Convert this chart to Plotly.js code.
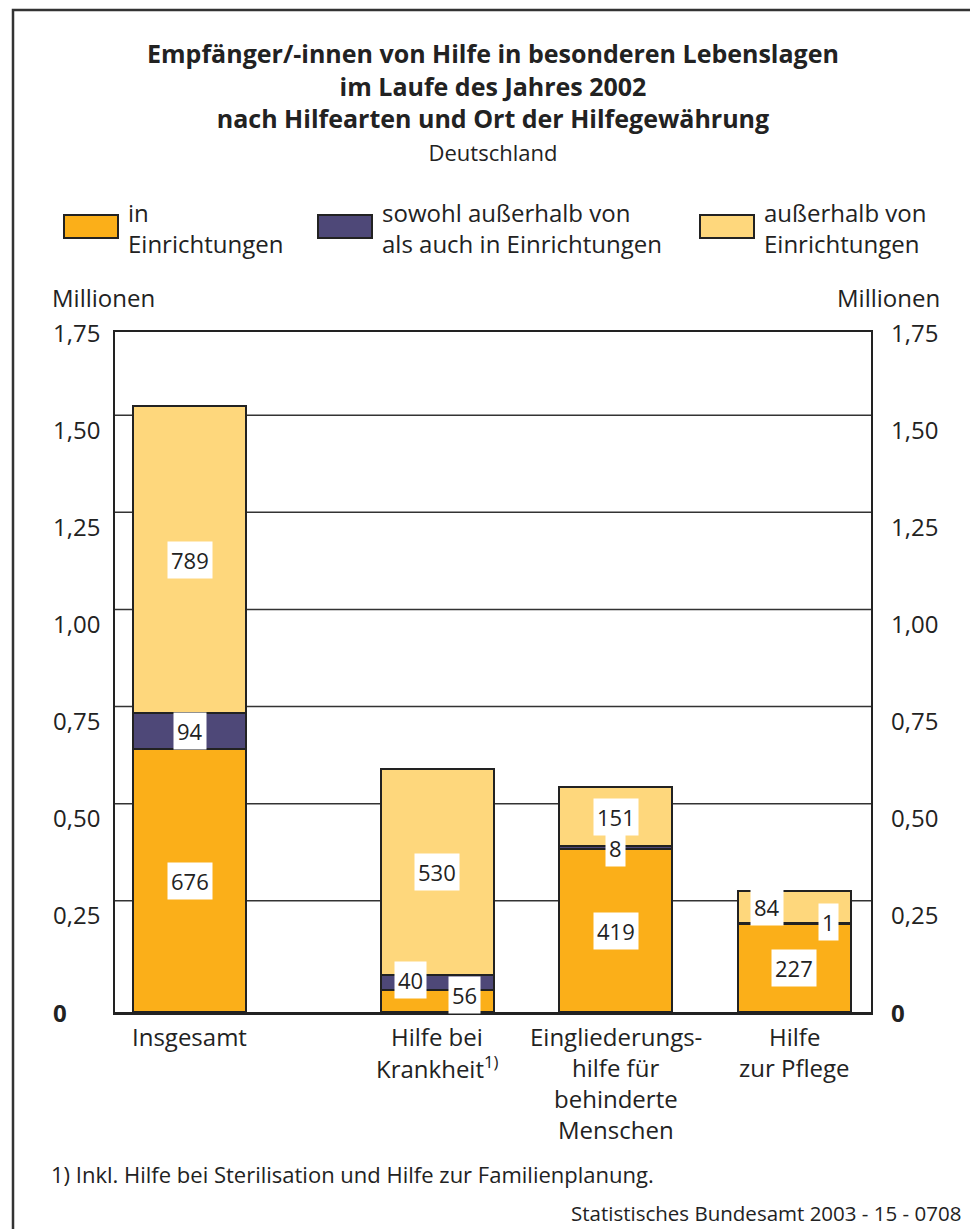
<!DOCTYPE html>
<html><head><meta charset="utf-8">
<script src="https://cdn.plot.ly/plotly-3.0.1.min.js"></script>
<style>html,body{margin:0;padding:0;background:#fff}</style>
</head><body><div id="chart" style="width:970px;height:1229px"></div>
<script>
// ---- data (thousands of recipients) ----
const categories = ["Insgesamt", "Hilfe bei<br>Krankheit<sup>1)</sup>", "Eingliederungs-<br>hilfe für<br>behinderte<br>Menschen", "Hilfe<br>zur Pflege"];
const inEinrichtungen = [676, 56, 419, 227];
const sowohlAlsAuch = [94, 40, 8, 1];
const ausserhalb = [789, 530, 151, 84];
const seriesNames = ["in<br>Einrichtungen", "sowohl außerhalb von<br>als auch in Einrichtungen", "außerhalb von<br>Einrichtungen"];
const tickValues = [0, 0.25, 0.5, 0.75, 1.0, 1.25, 1.5, 1.75];
const tickLabels = ["0", "0,25", "0,50", "0,75", "1,00", "1,25", "1,50", "1,75"];
const gridValues = [0.25, 0.5, 0.75, 1.0, 1.25, 1.5];

// ---- layout constants ----
const W = 970, H = 1229, ML = 115, MR = 99, MT = 332, MB = 217;
const PW = W - ML - MR, PH = H - MT - MB;
const px = x => (x - ML) / PW;
const py = y => (H - MB - y) / PH;
const slotPos = [0, 1.385, 2.385, 3.385];
const gridShift = 0.036;   // the printed grid sits slightly above the tick positions
const colors = ["#FBAF19", "#4E4878", "#FED77C"];
const FONT = "Open Sans";
const TXT = "#222";
const BODY = 24;
const series = [inEinrichtungen, sowohlAlsAuch, ausserhalb];

const traces = series.map((vals, s) => ({
  type: "bar",
  x: slotPos,
  y: vals.map(v => v / 1000),
  width: 0.633,
  name: seriesNames[s].replace("<br>", " "),
  marker: {color: colors[s], line: {color: "#222", width: 2}},
  hoverinfo: "skip",
  showlegend: false
}));

const annotations = [];
const shapes = [];

// grid lines (drawn below the bars)
gridValues.forEach(v => shapes.push({
  type: "line", xref: "paper", yref: "y", x0: 0, x1: 1, y0: v + gridShift, y1: v + gridShift,
  line: {color: "#333", width: 1.5}, layer: "below"
}));

// value labels
const shifts = {"1,1": [-27, 2], "0,1": [27, 6], "2,3": [-27, 0], "1,3": [34, 2]};
for (let i = 0; i < categories.length; i++) {
  let base = 0;
  series.forEach((vals, s) => {
    const v = vals[i];
    const sh = shifts[s + "," + i] || [0, 0];
    annotations.push({
      x: slotPos[i], y: (base + v / 2) / 1000, xref: "x", yref: "y",
      text: String(v), showarrow: false, bgcolor: "#fff", borderpad: 3,
      xshift: sh[0], yshift: sh[1],
      font: {family: FONT, size: 22, color: TXT}
    });
    base += v;
  });
}

// category labels (one annotation per line)
categories.forEach((c, i) => {
  c.split("<br>").forEach((line, k) => {
    annotations.push({
      x: slotPos[i], y: 0, xref: "x", yref: "y", yanchor: "middle",
      yshift: -24 - 31 * k, text: line, showarrow: false,
      font: {family: FONT, size: BODY, color: TXT}
    });
  });
});

// y tick labels on both sides
tickValues.forEach((v, k) => {
  const t = v === 0 ? "<b>" + tickLabels[k] + "</b>" : tickLabels[k];
  [51, 889].forEach(xp => annotations.push({
    x: px(xp), xref: "paper", y: v, yref: "y", xanchor: "left", yanchor: "middle",
    text: t, showarrow: false, font: {family: FONT, size: BODY, color: TXT}
  }));
});
annotations.push({x: px(50), xref: "paper", y: py(297), yref: "paper", xanchor: "left", yanchor: "middle",
  text: "Millionen", showarrow: false, font: {family: FONT, size: BODY, color: TXT}});
annotations.push({x: px(942), xref: "paper", y: py(297), yref: "paper", xanchor: "right", yanchor: "middle",
  text: "Millionen", showarrow: false, font: {family: FONT, size: BODY, color: TXT}});

// legend
const legX = [64, 318, 700];
seriesNames.forEach((n, s) => {
  shapes.push({type: "rect", xref: "paper", yref: "paper",
    x0: px(legX[s]), x1: px(legX[s] + 54), y0: py(238), y1: py(215),
    fillcolor: colors[s], line: {color: "#222", width: 2}});
  annotations.push({x: px(legX[s] + 62), xref: "paper", y: py(228), yref: "paper",
    xanchor: "left", yanchor: "middle", align: "left", text: n, showarrow: false,
    font: {family: FONT, size: BODY, color: TXT}});
});

// footnote and source
annotations.push({x: px(49), xref: "paper", y: py(1174), yref: "paper", xanchor: "left", yanchor: "middle",
  text: "1) Inkl. Hilfe bei Sterilisation und Hilfe zur Familienplanung.", showarrow: false,
  font: {family: FONT, size: 22, color: TXT}});
annotations.push({x: px(963), xref: "paper", y: py(1213), yref: "paper", xanchor: "right", yanchor: "middle",
  text: "Statistisches Bundesamt 2003 - 15 - 0708", showarrow: false,
  font: {family: FONT, size: 20.5, color: TXT}});

// outer frame
shapes.push({type: "rect", xref: "paper", yref: "paper", x0: px(13), x1: px(990), y0: py(1260), y1: py(10),
  line: {color: "#333", width: 2.5}, fillcolor: "rgba(0,0,0,0)", layer: "above"});

const layout = {
  width: W, height: H,
  margin: {l: ML, r: MR, t: MT, b: MB, pad: 0},
  paper_bgcolor: "#fff", plot_bgcolor: "#fff",
  barmode: "stack",
  font: {family: FONT, size: BODY, color: TXT},
  title: {
    text: "<b>Empfänger/-innen von Hilfe in besonderen Lebenslagen<br>im Laufe des Jahres 2002<br>nach Hilfearten und Ort der Hilfegewährung</b><br><span style='font-size:22px'>Deutschland</span>",
    font: {family: FONT, size: 25, color: TXT},
    x: 0.5, xref: "paper", xanchor: "center",
    y: 1 - 63 / H, yref: "container", yanchor: "top"
  },
  xaxis: {range: [-0.42, 3.815], showgrid: false, zeroline: false, showticklabels: false, ticks: "",
    showline: true, mirror: true, linecolor: "#222", linewidth: 2.5, fixedrange: true},
  yaxis: {range: [0, 1.75], showgrid: false, zeroline: false, showticklabels: false, ticks: "",
    showline: true, mirror: true, linecolor: "#222", linewidth: 2, fixedrange: true},
  annotations: annotations,
  shapes: shapes
};

Plotly.newPlot("chart", traces, layout, {displayModeBar: false, staticPlot: true});
</script>
</body></html>
